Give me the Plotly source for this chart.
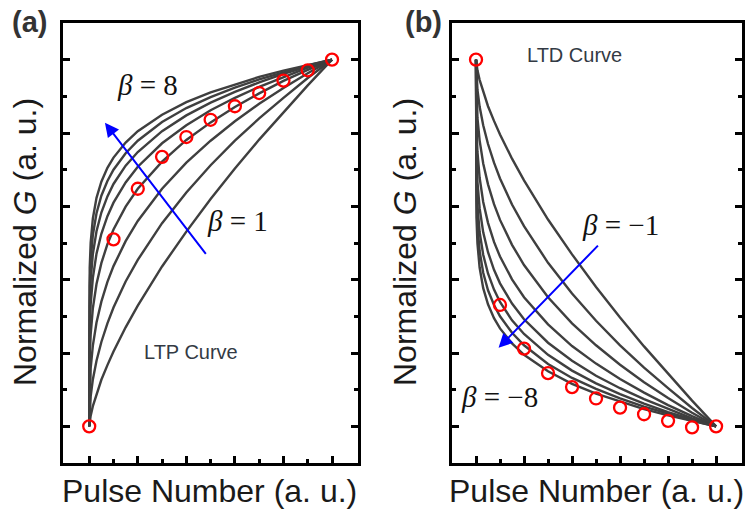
import plotly.graph_objects as go

# ---------------- data ----------------
PULSE = [0, 0.02, 0.06, 0.15, 0.3, 0.5, 0.75, 1, 1.5, 2, 3, 4, 5, 6, 7, 8, 9, 10]

LTP_B1 = [0, 0.014, 0.029, 0.055, 0.089, 0.127, 0.167, 0.204, 0.270, 0.329, 0.436, 0.531, 0.620, 0.703, 0.782, 0.857, 0.930, 1]
LTP_B2 = [0, 0.048, 0.082, 0.128, 0.179, 0.230, 0.281, 0.324, 0.395, 0.454, 0.554, 0.638, 0.712, 0.779, 0.840, 0.896, 0.950, 1]
LTP_B3 = [0, 0.107, 0.159, 0.220, 0.283, 0.340, 0.394, 0.437, 0.505, 0.560, 0.648, 0.719, 0.779, 0.832, 0.880, 0.923, 0.963, 1]
LTP_B4 = [0, 0.187, 0.251, 0.322, 0.388, 0.445, 0.497, 0.537, 0.599, 0.648, 0.722, 0.781, 0.829, 0.871, 0.908, 0.942, 0.972, 1]
LTP_B5 = [0, 0.263, 0.333, 0.405, 0.471, 0.525, 0.573, 0.610, 0.665, 0.708, 0.772, 0.821, 0.862, 0.896, 0.926, 0.953, 0.978, 1]
LTP_B6 = [0, 0.327, 0.398, 0.470, 0.532, 0.583, 0.627, 0.661, 0.711, 0.748, 0.805, 0.848, 0.883, 0.912, 0.938, 0.961, 0.981, 1]
LTP_B7 = [0, 0.382, 0.452, 0.522, 0.581, 0.629, 0.669, 0.700, 0.745, 0.779, 0.830, 0.868, 0.898, 0.924, 0.946, 0.966, 0.984, 1]
LTP_B8 = [0, 0.432, 0.501, 0.567, 0.623, 0.667, 0.705, 0.733, 0.774, 0.805, 0.850, 0.884, 0.911, 0.933, 0.953, 0.970, 0.986, 1]

LTD_B1 = [1, 0.986, 0.971, 0.945, 0.911, 0.873, 0.833, 0.796, 0.730, 0.671, 0.564, 0.469, 0.380, 0.297, 0.218, 0.143, 0.070, 0]
LTD_B2 = [1, 0.952, 0.918, 0.872, 0.821, 0.770, 0.719, 0.676, 0.605, 0.546, 0.446, 0.362, 0.288, 0.221, 0.160, 0.104, 0.050, 0]
LTD_B3 = [1, 0.893, 0.841, 0.780, 0.717, 0.660, 0.606, 0.563, 0.495, 0.440, 0.352, 0.281, 0.221, 0.168, 0.120, 0.077, 0.037, 0]
LTD_B4 = [1, 0.813, 0.749, 0.678, 0.612, 0.555, 0.503, 0.463, 0.401, 0.352, 0.278, 0.219, 0.171, 0.129, 0.092, 0.058, 0.028, 0]
LTD_B5 = [1, 0.737, 0.667, 0.595, 0.529, 0.475, 0.427, 0.390, 0.335, 0.292, 0.228, 0.179, 0.138, 0.104, 0.074, 0.047, 0.022, 0]
LTD_B6 = [1, 0.673, 0.602, 0.530, 0.468, 0.417, 0.373, 0.339, 0.289, 0.252, 0.195, 0.152, 0.117, 0.088, 0.062, 0.039, 0.019, 0]
LTD_B7 = [1, 0.618, 0.548, 0.478, 0.419, 0.371, 0.331, 0.300, 0.255, 0.221, 0.170, 0.132, 0.102, 0.076, 0.054, 0.034, 0.016, 0]
LTD_B8 = [1, 0.568, 0.499, 0.433, 0.377, 0.333, 0.295, 0.267, 0.226, 0.195, 0.150, 0.116, 0.089, 0.067, 0.047, 0.030, 0.014, 0]

POINT_X = [0, 1, 2, 3, 4, 5, 6, 7, 8, 9, 10]
LTP_POINTS = [0, 0.51, 0.648, 0.735, 0.789, 0.836, 0.873, 0.909, 0.943, 0.971, 1.0]
LTD_POINTS = [1.0, 0.331, 0.212, 0.145, 0.107, 0.076, 0.051, 0.033, 0.015, -0.003, 0.0]

X_MAJOR = [0, 2, 4, 6, 8, 10]
X_MINOR = [1, 3, 5, 7, 9]
Y_MAJOR = [0, 0.2, 0.4, 0.6, 0.8, 1.0]
Y_MINOR = [0.1, 0.3, 0.5, 0.7, 0.9]

LTP_CURVES = [LTP_B1, LTP_B2, LTP_B3, LTP_B4, LTP_B5, LTP_B6, LTP_B7, LTP_B8]
LTD_CURVES = [LTD_B1, LTD_B2, LTD_B3, LTD_B4, LTD_B5, LTD_B6, LTD_B7, LTD_B8]

# ---------------- styles ----------------
W, H = 749, 514
LINE_COLOR = "#3f3f3f"
SANS = "Liberation Sans, Arial, sans-serif"
SERIF = "Liberation Serif, Times New Roman, serif"
TXT = "#1a1a1a"

fig = go.Figure()

for ys in LTP_CURVES:
    fig.add_trace(go.Scatter(x=PULSE, y=ys, mode="lines", xaxis="x", yaxis="y",
                             line=dict(color=LINE_COLOR, width=2.4), hoverinfo="skip"))
for ys in LTD_CURVES:
    fig.add_trace(go.Scatter(x=PULSE, y=ys, mode="lines", xaxis="x2", yaxis="y2",
                             line=dict(color=LINE_COLOR, width=2.4), hoverinfo="skip"))

marker = dict(symbol="circle-open", size=12, color="#ff0000", line=dict(width=2.3, color="#ff0000"))
fig.add_trace(go.Scatter(x=POINT_X, y=LTP_POINTS, mode="markers", xaxis="x", yaxis="y", marker=marker))
fig.add_trace(go.Scatter(x=POINT_X, y=LTD_POINTS, mode="markers", xaxis="x2", yaxis="y2", marker=marker))

def xax(domain, rng, anchor):
    return dict(domain=domain, range=rng, anchor=anchor, showgrid=False, zeroline=False,
                showline=True, linecolor="black", linewidth=2.5, mirror=True,
                ticks="inside", ticklen=7, tickwidth=2.5, tickcolor="black",
                tickmode="array", tickvals=X_MAJOR, showticklabels=False,
                minor=dict(ticks="inside", ticklen=4, tickwidth=2.5, tickcolor="black",
                           tickmode="array", tickvals=X_MINOR, showgrid=False))

def yax(domain, anchor):
    return dict(domain=domain, range=[-0.1, 1.1], anchor=anchor, showgrid=False, zeroline=False,
                showline=True, linecolor="black", linewidth=2.5, mirror="ticks",
                ticks="inside", ticklen=7, tickwidth=2.5, tickcolor="black",
                tickmode="array", tickvals=Y_MAJOR, showticklabels=False,
                minor=dict(ticks="inside", ticklen=4, tickwidth=2.5, tickcolor="black",
                           tickmode="array", tickvals=Y_MINOR, showgrid=False))

ydom = [1 - 463 / H, 1 - 23 / H]
fig.update_layout(
    width=W, height=H, margin=dict(l=0, r=0, t=0, b=0),
    paper_bgcolor="white", plot_bgcolor="white", showlegend=False,
    xaxis=xax([63 / W, 358 / W], [-1.08, 11.07], "y"),
    yaxis=yax(ydom, "x"),
    xaxis2=xax([452 / W, 742 / W], [-1.0, 11.08], "y2"),
    yaxis2=yax(ydom, "x2"),
)

ann = []
# axis titles
for cx in (210, 596):
    ann.append(dict(xref="paper", yref="paper", x=cx / W, y=1 - 491 / H, text="Pulse Number (a. u.)",
                    showarrow=False, xanchor="center", yanchor="middle",
                    font=dict(family=SANS, size=32, color=TXT)))
for cx in (25, 405):
    ann.append(dict(xref="paper", yref="paper", x=cx / W, y=1 - 242 / H,
                    text="Normalized <i>G</i> (a. u.)", textangle=-90,
                    showarrow=False, xanchor="center", yanchor="middle",
                    font=dict(family=SANS, size=32, color=TXT)))
# panel labels
ann.append(dict(xref="paper", yref="paper", x=29 / W, y=1 - 22 / H, text="<b>(a)</b>",
                showarrow=False, xanchor="center", yanchor="middle",
                font=dict(family=SANS, size=29, color="#333333")))
ann.append(dict(xref="paper", yref="paper", x=423 / W, y=1 - 22 / H, text="<b>(b)</b>",
                showarrow=False, xanchor="center", yanchor="middle",
                font=dict(family=SANS, size=29, color="#333333")))
# curve names
ann.append(dict(xref="x", yref="y", x=4.19, y=0.202, text="LTP Curve", showarrow=False,
                font=dict(family=SANS, size=20, color="#333a44")))
ann.append(dict(xref="x2", yref="y2", x=4.12, y=1.012, text="LTD Curve", showarrow=False,
                font=dict(family=SANS, size=20, color="#333a44")))
# beta labels
for xr, yr, xx, yy, t in [("x", "y", 2.42, 0.932, "<i>β</i> = 8"),
                          ("x", "y", 6.09, 0.561, "<i>β</i> = 1"),
                          ("x2", "y2", 6.0, 0.548, "<i>β</i> = −1"),
                          ("x2", "y2", 0.96, 0.079, "<i>β</i> = −8")]:
    ann.append(dict(xref=xr, yref=yr, x=xx, y=yy, text=t, showarrow=False,
                    font=dict(family=SERIF, size=29, color="#111111")))
# arrows
ann.append(dict(xref="x", yref="y", axref="x", ayref="y", x=0.647, y=0.828, ax=4.85, ay=0.466,
                text="", showarrow=True, arrowhead=2, arrowsize=1.4, arrowwidth=2, arrowcolor="#0000ff"))
ann.append(dict(xref="x2", yref="y2", axref="x2", ayref="y2", x=0.94, y=0.214, ax=5.14, ay=0.497,
                text="", showarrow=True, arrowhead=2, arrowsize=1.4, arrowwidth=2, arrowcolor="#0000ff"))

fig.update_layout(annotations=ann)
fig.write_html("out.html", config={"displayModeBar": False},
               post_script="document.body.style.margin='0';document.body.style.padding='0';"
                           "document.body.style.overflow='hidden';")
